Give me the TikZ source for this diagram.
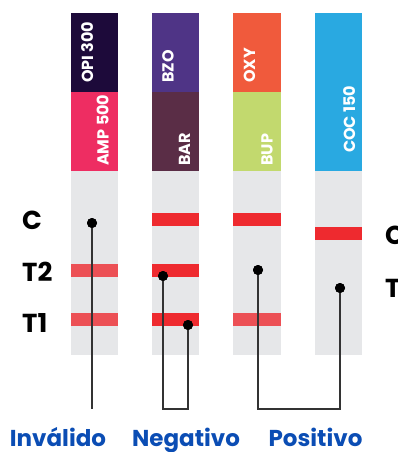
\documentclass[tikz,border=0pt]{standalone}
\usepackage{fontspec}
\setmainfont{Poppins}
\definecolor{gstrip}{HTML}{E6E7E9}
\definecolor{cOPI}{HTML}{1D0A3A}
\definecolor{cAMP}{HTML}{EE2D62}
\definecolor{cBZO}{HTML}{4F3486}
\definecolor{cBAR}{HTML}{5A2D46}
\definecolor{cOXY}{HTML}{F05A3C}
\definecolor{cBUP}{HTML}{C2D96E}
\definecolor{cCOC}{HTML}{29A9E1}
\definecolor{redband}{HTML}{EE2A2F}
\definecolor{lightband}{HTML}{EC5055}
\definecolor{bluetxt}{HTML}{0B4DB4}
\definecolor{linec}{HTML}{333333}
\tikzset{
  druglbl/.style={text=white, font=\bfseries\fontsize{16}{16}\selectfont, rotate=90, inner sep=0pt, anchor=base west},
  bandlbl/.style={font=\bfseries\fontsize{26}{26}\selectfont, inner sep=0pt, anchor=base west},
  reslbl/.style={text=bluetxt, font=\bfseries\fontsize{23}{23}\selectfont, inner sep=0pt, anchor=base},
  dotmark/.style={circle, fill=black, minimum size=10pt, inner sep=0pt},
  conn/.style={draw=linec, line width=1.3pt},
}
\begin{document}
\begin{tikzpicture}[x=1pt,y=-1pt]
\useasboundingbox (0,0) rectangle (398,452);
\clip (0,0) rectangle (398,452);
% strips gray
\foreach \xa/\xb in {71/118,152/199,233/281,315/362}{
  \fill[gstrip] (\xa,171) rectangle (\xb,355);
}
% colored sections
\fill[cOPI] (71,13) rectangle (118,92);
\fill[cAMP] (71,92) rectangle (118,171);
\fill[cBZO] (152,13) rectangle (199,92);
\fill[cBAR] (152,92) rectangle (199,171);
\fill[cOXY] (233,13) rectangle (281,92);
\fill[cBUP] (233,92) rectangle (281,171);
\fill[cCOC] (315,13) rectangle (362,171);
% drug labels
\node[druglbl] (opi) at (93,83) {OPI 300};
\node[druglbl] (amp) at (108.5,166) {AMP 500};
\node[druglbl] (bzo) at (173.5,83) {BZO};
\node[druglbl] (bar) at (190,166) {BAR};
\node[druglbl] (oxy) at (255,83) {OXY};
\node[druglbl] (bup) at (272.5,166) {BUP};
\node[druglbl] (coc) at (355,153) {COC 150};
% bands
\fill[lightband] (71,264) rectangle (118,277);
\fill[lightband] (71,313) rectangle (118,326);
\fill[redband] (152,213) rectangle (199,226);
\fill[redband] (152,264) rectangle (199,277);
\fill[redband] (152,313) rectangle (199,326);
\fill[redband] (233,213) rectangle (281,226);
\fill[lightband] (233,313) rectangle (281,326);
\fill[redband] (315,227) rectangle (362,240);
% band labels
\node[bandlbl] (lc) at (22,229.5) {C};
\node[bandlbl] (lt2) at (22,281) {T2};
\node[bandlbl] (lt1) at (22,332) {T1};
\node[bandlbl] (rc) at (385,244) {C};
\node[bandlbl] (rt) at (385,297) {T};
% corners
\coordinate (i0) at (92,409);
\coordinate (n1) at (163,409);
\coordinate (n2) at (188,409);
\coordinate (p1) at (258,409);
\coordinate (p2) at (340,409);
% dots and connectors
\node[dotmark] (d1) at (92,223) {};
\node[dotmark] (d2) at (163,276) {};
\node[dotmark] (d3) at (188,325) {};
\node[dotmark] (d4) at (258,270) {};
\node[dotmark] (d5) at (340,288) {};
\draw[conn] (d1.center) -- (i0);
\draw[conn] (d2.center) -- (n1) -- (n2) -- (d3.center);
\draw[conn] (d4.center) -- (p1) -- (p2) -- (d5.center);
\node[dotmark] at (d1) {};
\node[dotmark] at (d2) {};
\node[dotmark] at (d3) {};
\node[dotmark] at (d4) {};
\node[dotmark] at (d5) {};
% result labels
\node[reslbl] (inv) at (58,446) {Inválido};
\node[reslbl] (neg) at (186,446) {Negativo};
\node[reslbl] (pos) at (315.5,446) {Positivo};
\end{tikzpicture}
\end{document}
